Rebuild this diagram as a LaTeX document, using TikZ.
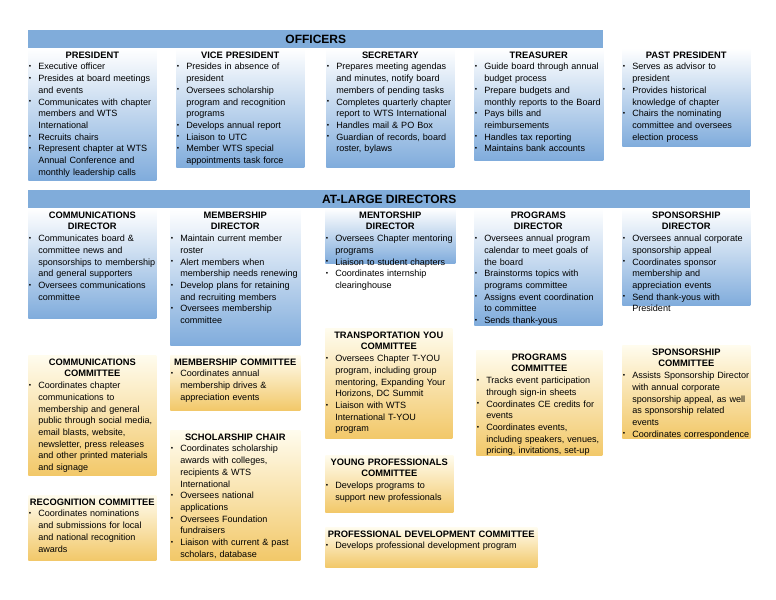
\documentclass[tikz,border=0pt]{standalone}
\usepackage{fontspec}
\setmainfont{Liberation Sans}
\usepackage{enumitem}
\setlist[itemize]{leftmargin=7pt,labelwidth=5pt,labelsep=2pt,align=left,itemsep=0pt,topsep=0pt,parsep=0pt,partopsep=0pt,label={\raisebox{1pt}{\tiny\textbullet}}}
\definecolor{barblue}{RGB}{128,172,218}
\definecolor{boxblue}{RGB}{128,172,220}
\definecolor{boxgold}{RGB}{242,200,105}
\definecolor{boxcream}{RGB}{255,252,238}
\tikzset{
  unitbox/.style={anchor=north west,inner sep=0pt,draw=none},
  bluebox/.style={unitbox,top color=white,bottom color=boxblue},
  goldbox/.style={unitbox,top color=boxcream,bottom color=boxgold},
  headbar/.style={anchor=north west,inner sep=0pt,fill=barblue,font=\bfseries\fontsize{9}{10}\selectfont},
  unittext/.style={anchor=north,inner sep=0pt,align=left,font=\fontsize{6.8}{8.8}\selectfont}
}
% #1 name, #2 style, #3 x, #4 y, #5 width (px), #6 height (px), #7 title, #8 items
\newcommand{\orgunit}[8]{%
  \pgfmathsetmacro{\unitw}{#5*0.75}%
  \pgfmathsetmacro{\unith}{#6*0.75}%
  \pgfmathsetmacro{\textw}{#5*0.75-1}%
  \node[#2,minimum width=\unitw pt,minimum height=\unith pt] (#1) at (#3,#4) {};
  \node[unittext,text width=\textw pt] (#1-t) at ([yshift=-2.5pt]#1.north)
    {\centering\textbf{\fontsize{7}{8.8}\selectfont #7}\par\raggedright
     \begin{itemize}#8\end{itemize}};
}
\begin{document}
\begin{tikzpicture}[x=0.75pt,y=-0.75pt]
  \useasboundingbox (0,0) rectangle (776,600);

  % Officers
  \node[headbar,minimum width=575*0.75pt,minimum height=18*0.75pt] (officers) at (28,30) {OFFICERS};
  \orgunit{pres}{bluebox}{28}{48}{128}{132}{PRESIDENT}{%
    \item Executive officer
    \item Presides at board meetings and events
    \item Communicates with chapter members and WTS International
    \item Recruits chairs
    \item Represent chapter at WTS Annual Conference and monthly leadership calls}
  \orgunit{vp}{bluebox}{176}{48}{128}{119}{VICE PRESIDENT}{%
    \item Presides in absence of president
    \item Oversees scholarship program and recognition programs
    \item Develops annual report
    \item Liaison to UTC
    \item Member WTS special appointments task force}
  \orgunit{sec}{bluebox}{326}{48}{128}{119}{SECRETARY}{%
    \item Prepares meeting agendas and minutes, notify board members of pending tasks
    \item Completes quarterly chapter report to WTS International
    \item Handles mail \& PO Box
    \item Guardian of records, board roster, bylaws}
  \orgunit{treas}{bluebox}{474}{48}{129}{112}{TREASURER}{%
    \item Guide board through annual budget process
    \item Prepare budgets and monthly reports to the Board
    \item Pays bills and reimbursements
    \item Handles tax reporting
    \item Maintains bank accounts}
  \orgunit{past}{bluebox}{622}{48}{128}{98}{PAST PRESIDENT}{%
    \item Serves as advisor to president
    \item Provides historical knowledge of chapter
    \item Chairs the nominating committee and oversees election process}

  % At-large directors
  \node[headbar,minimum width=722*0.75pt,minimum height=18*0.75pt] (directors) at (28,190) {AT-LARGE DIRECTORS};
  \orgunit{commdir}{bluebox}{28}{208}{128}{110}{COMMUNICATIONS\\DIRECTOR}{%
    \item Communicates board \& committee news and sponsorships to membership and general supporters
    \item Oversees communications committee}
  \orgunit{memdir}{bluebox}{170}{208}{130}{137}{MEMBERSHIP\\DIRECTOR}{%
    \item Maintain current member roster
    \item Alert members when membership needs renewing
    \item Develop plans for retaining and recruiting members
    \item Oversees membership committee}
  \orgunit{mentdir}{bluebox}{325}{208}{130}{55}{MENTORSHIP\\DIRECTOR}{%
    \item Oversees Chapter mentoring programs
    \item Liaison to student chapters
    \item Coordinates internship clearinghouse}
  \orgunit{progdir}{bluebox}{474}{208}{128}{117}{PROGRAMS\\DIRECTOR}{%
    \item Oversees annual program calendar to meet goals of the board
    \item Brainstorms topics with programs committee
    \item Assigns event coordination to committee
    \item Sends thank-yous}
  \orgunit{spondir}{bluebox}{622}{208}{128}{97}{SPONSORSHIP\\DIRECTOR}{%
    \item Oversees annual corporate sponsorship appeal
    \item Coordinates sponsor membership and appreciation events
    \item Send thank-yous with President}

  % Committees
  \orgunit{commcom}{goldbox}{28}{355}{128}{120}{COMMUNICATIONS\\COMMITTEE}{%
    \item Coordinates chapter communications to membership and general public through social media, email blasts, website, newsletter, press releases and other printed materials and signage}
  \orgunit{reccom}{goldbox}{28}{495}{128}{65}{RECOGNITION COMMITTEE}{%
    \item Coordinates nominations and submissions for local and national recognition awards}
  \orgunit{memcom}{goldbox}{170}{355}{130}{55}{MEMBERSHIP COMMITTEE}{%
    \item Coordinates annual membership drives \& appreciation events}
  \orgunit{schol}{goldbox}{170}{430}{130}{130}{SCHOLARSHIP CHAIR}{%
    \item Coordinates scholarship awards with colleges, recipients \& WTS International
    \item Oversees national applications
    \item Oversees Foundation fundraisers
    \item Liaison with current \& past scholars, database}
  \orgunit{tyou}{goldbox}{325}{328}{127}{110}{TRANSPORTATION YOU\\COMMITTEE}{%
    \item Oversees Chapter T-YOU program, including group mentoring, Expanding Your Horizons, DC Summit
    \item Liaison with WTS International T-YOU program}
  \orgunit{ypcom}{goldbox}{325}{455}{128}{57}{YOUNG PROFESSIONALS\\COMMITTEE}{%
    \item Develops programs to support new professionals}
  \orgunit{pdcom}{goldbox}{325}{527}{212}{40}{PROFESSIONAL DEVELOPMENT COMMITTEE}{%
    \item Develops professional development program}
  \orgunit{progcom}{goldbox}{476}{350}{126}{105}{PROGRAMS\\COMMITTEE}{%
    \item Tracks event participation through sign-in sheets
    \item Coordinates CE credits for events
    \item Coordinates events, including speakers, venues, pricing, invitations, set-up}
  \orgunit{sponcom}{goldbox}{622}{345}{128}{93}{SPONSORSHIP COMMITTEE}{%
    \item Assists Sponsorship Director with annual corporate sponsorship appeal, as well as sponsorship related events
    \item Coordinates correspondence}
\end{tikzpicture}
\end{document}
